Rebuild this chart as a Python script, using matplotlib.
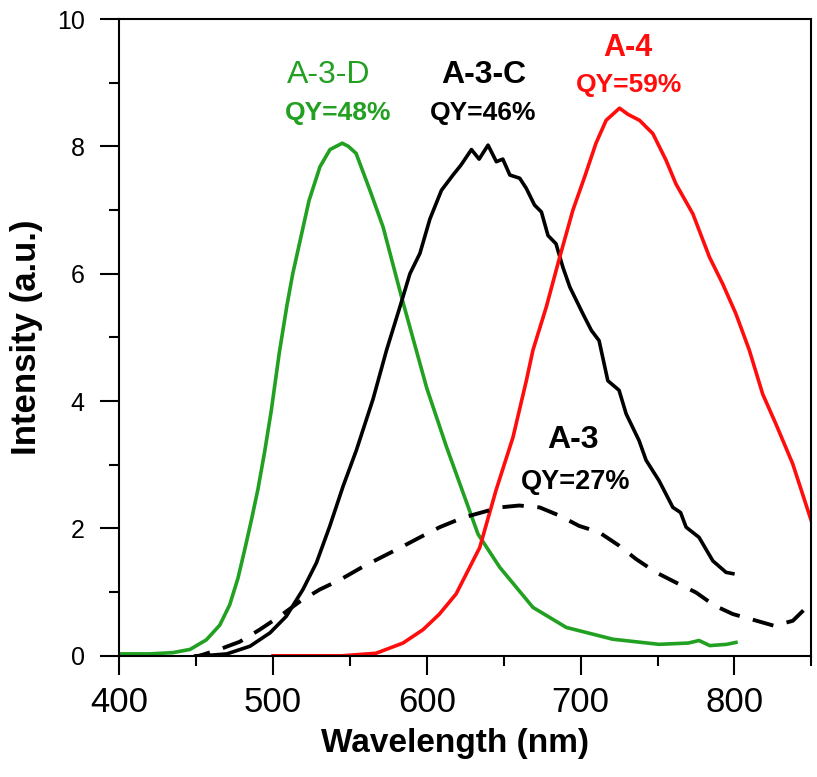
import numpy as np
import matplotlib
matplotlib.use("Agg")
import matplotlib.pyplot as plt
from matplotlib.ticker import MultipleLocator

plt.rcParams['font.family'] = ['Liberation Sans', 'DejaVu Sans']

# A-3-D (green)
wl_d = [400, 420, 435, 446, 456.6, 465.3, 471.8, 477.2, 481.5, 485.9, 490.2, 494.5,
        498.9, 504, 509, 512.8, 518.6, 523.4, 530.5, 537, 545, 549, 554, 563, 571.6,
        583.6, 600, 612.8, 633.3, 647.4, 669, 690.7, 721, 751, 770, 777, 784, 795, 801]
int_d = [0.03, 0.03, 0.05, 0.1, 0.25, 0.48, 0.8, 1.22, 1.66, 2.13, 2.62, 3.2,
         3.86, 4.75, 5.5, 6.0, 6.63, 7.15, 7.68, 7.95, 8.05, 8.0, 7.89, 7.31, 6.73,
         5.63, 4.2, 3.28, 1.91, 1.39, 0.76, 0.445, 0.26, 0.18, 0.2, 0.24, 0.16, 0.18, 0.21]

# A-3-C (black)
wl_c = [450, 460, 470, 485, 498, 508.6, 519.4, 528.2, 536.8, 545.5, 554.2, 565,
        573.8, 582.5, 589, 595.5, 602, 609.5, 617, 622, 629, 634, 639.8, 645.2,
        649.4, 654, 660.4, 664.7, 670, 674.5, 678.8, 684, 688.5, 693, 701.5, 707,
        712, 717.7, 725, 729.6, 738, 742.6, 751, 760, 765, 768.6, 777, 786, 794.6, 799]
int_c = [0.0, 0.01, 0.03, 0.15, 0.36, 0.62, 1.04, 1.46, 2.03, 2.66, 3.23, 4.03,
         4.8, 5.48, 6.0, 6.32, 6.86, 7.31, 7.55, 7.7, 7.95, 7.8, 8.02, 7.76,
         7.8, 7.55, 7.5, 7.34, 7.08, 6.97, 6.6, 6.47, 6.1, 5.79, 5.37, 5.11,
         4.95, 4.32, 4.17, 3.8, 3.38, 3.07, 2.75, 2.33, 2.25, 2.02, 1.86, 1.49, 1.31, 1.29]

# A-4 (red)
wl_4 = [500, 545, 567, 584.5, 597.5, 608, 619, 634.4, 645, 656, 664.7, 669, 677.7,
        686.4, 695, 702.6, 710, 716.6, 725.3, 731, 738.3, 747, 755.6, 762, 773,
        783.8, 792.4, 801, 809.7, 818.4, 827, 838, 850]
int_4 = [0.0, 0.0, 0.04, 0.2, 0.41, 0.65, 0.97, 1.70, 2.6, 3.43, 4.32, 4.8, 5.48,
         6.26, 7.0, 7.52, 8.05, 8.41, 8.6, 8.5, 8.41, 8.2, 7.78, 7.41, 6.94,
         6.26, 5.84, 5.37, 4.8, 4.11, 3.64, 3.01, 2.12]

# A-3 (dashed)
wl_3 = [400, 420, 440, 452, 465, 478.3, 491.3, 504.3, 517.3, 530.3, 543.3, 558.5,
        584.5, 595.5, 608.4, 623.6, 647.4, 660, 673.4, 686.4, 699, 712, 725, 736,
        749, 762, 775, 787, 799, 813, 826, 838, 849]
int_3 = [-0.05, -0.05, -0.05, 0.0, 0.1, 0.22, 0.41, 0.62, 0.85, 1.04, 1.19, 1.40,
         1.72, 1.86, 2.02, 2.17, 2.33, 2.36, 2.33, 2.2, 2.04, 1.94, 1.73, 1.52,
         1.31, 1.15, 0.995, 0.79, 0.655, 0.56, 0.47, 0.55, 0.81]

green = '#22a022'
red = '#ff0d0d'


def main():
    fig = plt.figure(figsize=(8.17, 7.77), dpi=100)
    ax = fig.add_axes([0.146, 0.156, 0.847, 0.8195])

    ax.plot(wl_d, int_d, color=green, lw=2.6)
    ax.plot(wl_c, int_c, color='black', lw=2.6)
    ax.plot(wl_4, int_4, color=red, lw=2.6)
    ax.plot(wl_3, int_3, color='black', lw=2.8, dashes=(5.5, 3.5))

    ax.text(536, 9.12, "A-3-D", color=green, fontsize=23, ha='center', va='center')
    ax.text(542.6, 8.52, "QY=48%", color=green, fontsize=19, fontweight='bold', ha='center', va='center')
    ax.text(637, 9.12, "A-3-C", color='black', fontsize=23, fontweight='bold', ha='center', va='center')
    ax.text(636.6, 8.52, "QY=46%", color='black', fontsize=19, fontweight='bold', ha='center', va='center')
    ax.text(731, 9.54, "A-4", color=red, fontsize=22, fontweight='bold', ha='center', va='center')
    ax.text(731.8, 8.96, "QY=59%", color=red, fontsize=19, fontweight='bold', ha='center', va='center')
    ax.text(695, 3.39, "A-3", color='black', fontsize=23, fontweight='bold', ha='center', va='center')
    ax.text(697, 2.73, "QY=27%", color='black', fontsize=19.5, fontweight='bold', ha='center', va='center')

    ax.set_xlim(400, 850)
    ax.set_ylim(0, 10)
    ax.xaxis.set_major_locator(MultipleLocator(100))
    ax.xaxis.set_minor_locator(MultipleLocator(50))
    ax.yaxis.set_major_locator(MultipleLocator(2))
    ax.yaxis.set_minor_locator(MultipleLocator(1))

    ax.tick_params(which='major', direction='out', length=14, width=1.5)
    ax.tick_params(which='minor', direction='out', length=7, width=1.5)
    ax.tick_params(axis='x', which='major', labelsize=25, pad=8)
    ax.tick_params(axis='y', which='major', labelsize=18, pad=11)
    for s in ax.spines.values():
        s.set_linewidth(1.5)

    ax.set_xlabel("Wavelength (nm)", fontsize=24, fontweight='bold', labelpad=6)
    ax.xaxis.label.set_x(0.485)
    ax.set_ylabel("Intensity (a.u.)", fontsize=25, fontweight='bold', labelpad=10)

    fig.savefig("out.png", dpi=100)


if __name__ == "__main__":
    main()
